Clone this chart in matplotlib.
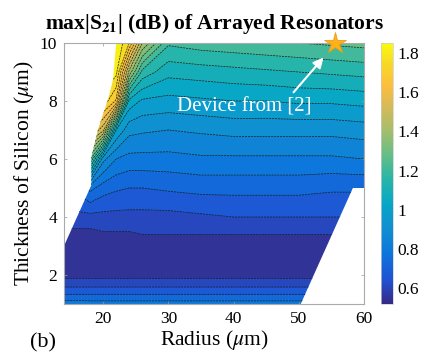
import matplotlib
matplotlib.use('Agg')
import matplotlib.pyplot as plt
import numpy as np
from matplotlib.colors import LinearSegmentedColormap, Normalize
from matplotlib.patches import Polygon
import matplotlib.cm as cm

plt.rcParams['font.family'] = 'Liberation Serif'
plt.rcParams['mathtext.fontset'] = 'stix'

# grid of the simulation sweep
radius_um = [14, 16, 18, 20, 22, 24, 26, 30, 35, 40, 45, 50, 55, 60]
thickness_um = [1, 1.25, 1.5, 1.75, 2, 3, 3.5, 4, 5, 6, 7, 8, 9, 10]

# max|S21| (dB), one row per thickness (bottom to top)
s21_max = [
    [0.80, 0.80, 0.79, 0.79, 0.79, 0.79, 0.79, 0.79, 0.79, 0.79, 0.79, 0.79, 0.79, 0.79],
    [0.72, 0.72, 0.72, 0.72, 0.72, 0.72, 0.72, 0.72, 0.72, 0.72, 0.72, 0.72, 0.72, 0.72],
    [0.66, 0.66, 0.66, 0.66, 0.66, 0.66, 0.66, 0.66, 0.66, 0.66, 0.66, 0.66, 0.66, 0.66],
    [0.60, 0.60, 0.60, 0.60, 0.60, 0.60, 0.60, 0.60, 0.60, 0.60, 0.60, 0.60, 0.60, 0.60],
    [0.56, 0.56, 0.56, 0.56, 0.56, 0.56, 0.56, 0.56, 0.56, 0.56, 0.56, 0.56, 0.56, 0.56],
    [0.54, 0.54, 0.54, 0.54, 0.54, 0.54, 0.54, 0.54, 0.54, 0.54, 0.54, 0.54, 0.54, 0.54],
    [0.57, 0.57, 0.57, 0.58, 0.58, 0.58, 0.59, 0.59, 0.59, 0.59, 0.59, 0.59, 0.59, 0.59],
    [0.61, 0.62, 0.62, 0.62, 0.62, 0.62, 0.62, 0.62, 0.63, 0.64, 0.64, 0.64, 0.64, 0.64],
    [0.70, 0.72, 0.78, 0.73, 0.71, 0.70, 0.70, 0.71, 0.72, 0.72, 0.72, 0.72, 0.71, 0.71],
    [0.95, 1.05, 1.25, 0.90, 0.82, 0.80, 0.80, 0.80, 0.81, 0.81, 0.81, 0.81, 0.81, 0.82],
    [1.50, 1.58, 1.62, 1.50, 1.00, 0.90, 0.89, 0.88, 0.89, 0.90, 0.90, 0.90, 0.90, 0.91],
    [1.72, 1.74, 1.76, 1.76, 1.65, 1.04, 0.99, 0.98, 0.99, 1.00, 1.00, 1.01, 1.01, 1.02],
    [1.80, 1.80, 1.82, 1.82, 1.80, 1.40, 1.16, 1.08, 1.09, 1.10, 1.11, 1.12, 1.13, 1.14],
    [1.85, 1.85, 1.85, 1.85, 1.84, 1.72, 1.42, 1.19, 1.21, 1.22, 1.23, 1.24, 1.25, 1.26],
]

# outline of the region that was simulated
edge_r = [14, 18.2, 18.2, 19.2, 20.8, 21.5, 22.0, 60, 60, 58.3, 50.3, 14]
edge_t = [3, 5.1, 6.07, 7.0, 8.1, 8.7, 10, 10, 5, 5, 1, 1]

device_r, device_t = 55.5, 10.0

# parula-like colormap
parula = LinearSegmentedColormap.from_list('parula', [
    (0 / 63, (0.2081, 0.1663, 0.5292)),
    (6 / 63, (0.1253, 0.3242, 0.8303)),
    (12 / 63, (0.0498, 0.4586, 0.8641)),
    (18 / 63, (0.0641, 0.5570, 0.8240)),
    (24 / 63, (0.0228, 0.6535, 0.7768)),
    (30 / 63, (0.1453, 0.7098, 0.6646)),
    (36 / 63, (0.3953, 0.7459, 0.5244)),
    (42 / 63, (0.6473, 0.7456, 0.4188)),
    (48 / 63, (0.8507, 0.7299, 0.3360)),
    (53 / 63, (0.9938, 0.7455, 0.2403)),
    (58 / 63, (0.9697, 0.8481, 0.1475)),
    (63 / 63, (0.9763, 0.9831, 0.0538)),
])
vmin, vmax = 0.52, 1.85
norm = Normalize(vmin, vmax)
levels = np.linspace(0.52, 1.84, 23)

fig = plt.figure(figsize=(4.46, 3.57), dpi=100)
ax = fig.add_axes([0.1435, 0.1485, 0.6726, 0.731])

R, T = np.meshgrid(radius_um, thickness_um)
Z = np.array(s21_max)

clip = Polygon(np.column_stack([edge_r, edge_t]), closed=True,
               transform=ax.transData, facecolor='none', edgecolor='none')
ax.add_patch(clip)

cf = ax.contourf(R, T, Z, levels=levels, cmap=parula, norm=norm, extend='both')
cl = ax.contour(R, T, Z, levels=levels, colors='#1a1a1a', linewidths=0.5,
                linestyles=[(0, (3, 1.2))])
cf.set_clip_path(clip)
cl.set_clip_path(clip)

ax.set_xlim(14, 60)
ax.set_ylim(1, 10)
ax.set_xticks([20, 30, 40, 50, 60])
ax.set_yticks([2, 4, 6, 8, 10])
ax.tick_params(direction='in', length=2.5, width=0.5, color='#999999',
               labelsize=12.5, top=True, right=True, pad=5)
for sp in ax.spines.values():
    sp.set_color('#aaaaaa')
    sp.set_linewidth(0.8)

ax.set_title(r'max|S$_{\mathbf{21}}$| (dB) of Arrayed Resonators',
             fontsize=15.5, fontweight='bold', pad=10)
ax.set_xlabel(r'Radius ($\mu$m)', fontsize=15.5, labelpad=1)
ax.set_ylabel(r'Thickness of Silicon ($\mu$m)', fontsize=15.5, labelpad=3)

ax.plot(device_r, device_t, marker='*', ms=16, mfc='#fdb21c', mec='#f59a10',
        mew=0.6, clip_on=False, zorder=6)
ax.annotate('', xy=(53.8, 9.5), xytext=(49.2, 8.3),
            arrowprops=dict(arrowstyle='-|>,head_length=0.6,head_width=0.3',
                            color='white', lw=1.5, shrinkA=0, shrinkB=0))
ax.text(41.7, 7.8, 'Device from [2]', color='white', fontsize=15,
        ha='center', va='center')

fig.text(43 / 446, 1 - 343 / 357, '(b)', fontsize=16, ha='center', va='center')

cax = fig.add_axes([0.854, 0.1485, 0.027, 0.731])
sm = cm.ScalarMappable(norm=norm, cmap=parula)
cb = fig.colorbar(sm, cax=cax, ticks=[0.6, 0.8, 1.0, 1.2, 1.4, 1.6, 1.8])
cb.ax.set_yticklabels(['0.6', '0.8', '1', '1.2', '1.4', '1.6', '1.8'])
cb.ax.tick_params(labelsize=12.5, length=0, pad=3)
cb.outline.set_edgecolor('#cccccc')
cb.outline.set_linewidth(0.5)

fig.savefig('out.png', dpi=100)
